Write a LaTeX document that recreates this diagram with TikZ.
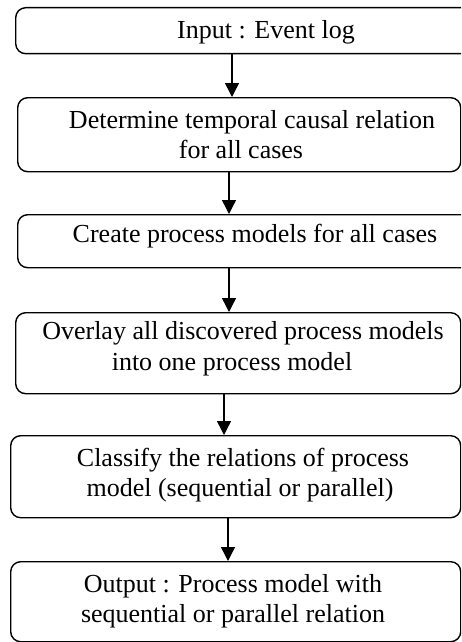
\documentclass[tikz,border=0pt]{standalone}
\usepackage{fontspec}
\setmainfont{Liberation Serif}
\usetikzlibrary{arrows.meta}

\tikzset{
  stepbox/.style={draw, line width=1.4pt, rounded corners=10pt, anchor=north west, inner sep=0pt},
  txt/.style={anchor=base, inner sep=0pt, font=\fontsize{26}{30}\selectfont},
  flow/.style={draw, line width=1.4pt, -{Triangle[width=14pt,length=14pt]}},
}

\begin{document}
\begin{tikzpicture}[x=1pt, y=-1pt]
  \useasboundingbox (0,0) rectangle (461,642);
  \clip (0,0) rectangle (461,642);

  % boxes (the first and third run past the right edge)
  \node[stepbox, minimum width=460pt, minimum height=46pt] (b1) at (15,7) {};
  \node[stepbox, minimum width=443pt, minimum height=74pt] (b2) at (17,97) {};
  \node[stepbox, minimum width=460pt, minimum height=53pt] (b3) at (17,214) {};
  \node[stepbox, minimum width=445pt, minimum height=81pt] (b4) at (15,312) {};
  \node[stepbox, minimum width=450pt, minimum height=82pt] (b5) at (10,435) {};
  \node[stepbox, minimum width=450pt, minimum height=80pt] (b6) at (10,561) {};

  % labels
  \node[txt] (t1) at (266,38) {Input : Event log};
  \node[txt] (t2a) at (252,128) {Determine temporal causal relation};
  \node[txt] (t2b) at (241,158) {for all cases};
  \node[txt] (t3) at (255,242) {Create process models for all cases};
  \node[txt] (t4a) at (243,339) {Overlay all discovered process models};
  \node[txt] (t4b) at (232,370) {into one process model};
  \node[txt] (t5a) at (243,466) {Classify the relations of process};
  \node[txt] (t5b) at (240,496) {model (sequential or parallel)};
  \node[txt] (t6a) at (233,592) {Output : Process model with};
  \node[txt] (t6b) at (233,622) {sequential or parallel relation};

  % connectors
  \draw[flow] (b1.south -| 232,0) -- (b2.north -| 232,0);
  \draw[flow] (b2.south -| 229,0) -- (b3.north -| 229,0);
  \draw[flow] (b3.south -| 229,0) -- (b4.north -| 229,0);
  \draw[flow] (b4.south -| 224,0) -- (b5.north -| 224,0);
  \draw[flow] (b5.south -| 228,0) -- (b6.north -| 228,0);
\end{tikzpicture}
\end{document}
